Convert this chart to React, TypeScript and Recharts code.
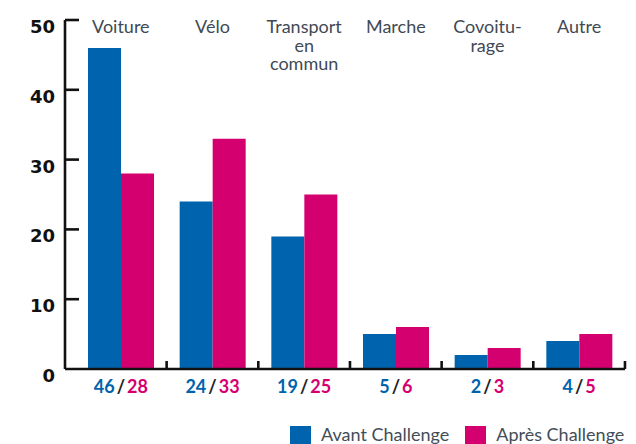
import React from 'react';
import { BarChart, Bar, XAxis, YAxis, Legend } from 'recharts';

// modes de déplacement, avant / après le challenge (%)
const categories = ['Voiture', 'Vélo', 'Transport en commun', 'Marche', 'Covoiturage', 'Autre'];
const categoryLines = [['Voiture'], ['Vélo'], ['Transport', 'en', 'commun'], ['Marche'], ['Covoitu-', 'rage'], ['Autre']];
const avantValues = [46, 24, 19, 5, 2, 4];
const apresValues = [28, 33, 25, 6, 3, 5];
const yTicks = [0, 10, 20, 30, 40, 50];
const seriesNames = ['Avant Challenge', 'Après Challenge'];

const BLUE = '#0063ae';
const PINK = '#d5006f';
const AXIS = '#111';
const TEXT = '#3f4a54';
const HALF_BAND = 45.8;
const TOP_LABEL_Y = 33;

const data = categories.map((name, i) => ({
  name,
  avant: avantValues[i],
  apres: apresValues[i],
}));

const YTick = (props: any) => {
  const { x, y, payload } = props;
  return (
    <g>
      {payload.value !== 0 && (
        <line x1={x} x2={x + 14} y1={y} y2={y} stroke={AXIS} strokeWidth={2.6} />
      )}
      <text
        x={x - 10}
        y={y + 13}
        textAnchor="end"
        fontFamily="'DejaVu Sans', sans-serif"
        fontWeight={700}
        fontSize={18}
        fill="#111"
      >
        {payload.value}
      </text>
    </g>
  );
};

// valeurs sous l'axe + petits traits entre catégories + libellés en haut
const ValueTick = (props: any) => {
  const { x, y, payload } = props;
  const i = categories.indexOf(payload.value);
  const lines = categoryLines[i] || [];
  return (
    <g>
      <line x1={x + HALF_BAND} x2={x + HALF_BAND} y1={y} y2={y - 8} stroke={AXIS} strokeWidth={2.6} />
      <text x={x} y={y + 24} textAnchor="middle" fontFamily="Lato, sans-serif" fontWeight={700} fontSize={18}>
        <tspan fill={BLUE}>{avantValues[i]}</tspan>
        <tspan fill="#222" dx={2}>/</tspan>
        <tspan fill={PINK} dx={2}>{apresValues[i]}</tspan>
      </text>
      <text x={x} y={TOP_LABEL_Y} textAnchor="middle" fontFamily="Lato, sans-serif" fontSize={18} fill={TEXT}>
        {lines.map((l, k) => (
          <tspan key={k} x={x} dy={k === 0 ? 0 : 18.5}>
            {l}
          </tspan>
        ))}
      </text>
    </g>
  );
};

const LegendContent = () => (
  <div style={{ display: 'flex', alignItems: 'flex-start', fontFamily: 'Lato, sans-serif', fontSize: 18, lineHeight: '20px', color: '#434d57' }}>
    {[BLUE, PINK].map((c, i) => (
      <div key={i} style={{ display: 'flex', alignItems: 'flex-start', marginRight: i === 0 ? 16 : 0 }}>
        <span style={{ display: 'inline-block', width: 21, height: 21, background: c, marginTop: 2, marginRight: 10 }} />
        <span style={{ whiteSpace: 'nowrap' }}>{seriesNames[i]}</span>
      </div>
    ))}
  </div>
);

export default function App() {
  return (
    <div style={{ position: 'absolute', left: 0, top: 0, width: 636, height: 444, background: '#fff' }}>
      <BarChart
        width={636}
        height={444}
        data={data}
        margin={{ top: 20, right: 11, bottom: 0, left: 0 }}
        barGap={0}
        barSize={33}
      >
        <XAxis
          dataKey="name"
          height={55}
          padding={{ left: 10, right: 0 }}
          axisLine={{ stroke: AXIS, strokeWidth: 2.6 }}
          tickLine={false}
          tickSize={0}
          tickMargin={0}
          interval={0}
          tick={<ValueTick />}
        />
        <YAxis
          width={65}
          domain={[0, 50]}
          ticks={yTicks}
          interval={0}
          axisLine={{ stroke: AXIS, strokeWidth: 2.6 }}
          tickLine={false}
          tickSize={0}
          tickMargin={0}
          tick={<YTick />}
        />
        <Legend
          verticalAlign="bottom"
          content={<LegendContent />}
          wrapperStyle={{ left: 290, width: 346, height: 20, bottom: 0 }}
        />
        <Bar dataKey="avant" name={seriesNames[0]} fill={BLUE} isAnimationActive={false} />
        <Bar dataKey="apres" name={seriesNames[1]} fill={PINK} isAnimationActive={false} />
      </BarChart>
    </div>
  );
}
